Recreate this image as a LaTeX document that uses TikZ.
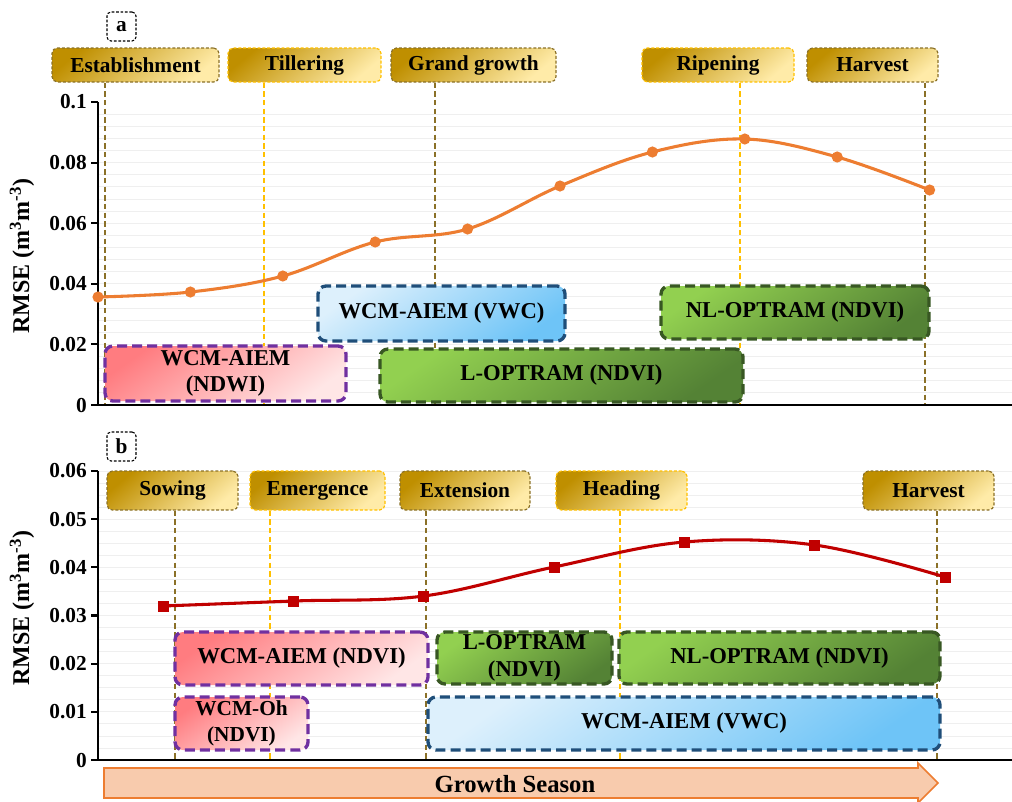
\documentclass[tikz,border=0pt]{standalone}
\usepackage{fontspec}
\setmainfont{Liberation Serif}
\usetikzlibrary{calc}
\definecolor{goldD}{HTML}{BF8F00}
\definecolor{goldM}{HTML}{FFD24A}
\definecolor{goldL}{HTML}{FFEBA8}
\definecolor{oliveLn}{HTML}{8B7128}
\definecolor{goldLn}{HTML}{FFC000}
\definecolor{pinkD}{HTML}{FF7C80}
\definecolor{pinkM}{HTML}{FFB0B2}
\definecolor{pinkL}{HTML}{FFE6E6}
\definecolor{purpLn}{HTML}{7030A0}
\definecolor{blueL}{HTML}{DDF0FC}
\definecolor{blueM}{HTML}{B5E0FB}
\definecolor{blueD}{HTML}{6EC4F7}
\definecolor{blueLn}{HTML}{1F4E79}
\definecolor{greenA}{HTML}{92D050}
\definecolor{greenB}{HTML}{A9D18E}
\definecolor{greenC}{HTML}{548235}
\definecolor{greenLn}{HTML}{385723}
\definecolor{orangeC}{HTML}{ED7D31}
\definecolor{redC}{HTML}{C00000}
\definecolor{peach}{HTML}{F8CBAD}
\definecolor{gridC}{HTML}{EFEFEF}
\begin{document}
\begin{tikzpicture}[x=0.75pt,y=-0.75pt,font=\bfseries,
  span/.style n args={4}{minimum width={(#3-#1)*0.75pt}, minimum height={(#4-#2)*0.75pt},
    at={({(#1+#3)/2},{(#2+#4)/2})}},
  hdr/.style={rounded corners=4pt, line width=0.9pt, dash pattern=on 2.2pt off 1.4pt,
    top color=goldD, middle color=goldM, bottom color=goldL, shading angle=40,
    inner sep=0pt, font=\fontsize{16}{19}\selectfont\bfseries},
  hdrO/.style={hdr, draw=oliveLn},
  hdrG/.style={hdr, draw=goldLn},
  vline/.style={line width=1.5pt, dash pattern=on 4pt off 2.5pt},
  model/.style={rounded corners=6pt, line width=2.5pt, dash pattern=on 7.5pt off 3.8pt,
    inner sep=0pt, align=center, font=\fontsize{17}{20}\selectfont\bfseries},
  pinkbox/.style={model, draw=purpLn, top color=pinkD, middle color=pinkM, bottom color=pinkL, shading angle=35},
  bluebox/.style={model, draw=blueLn, top color=blueL, middle color=blueM, bottom color=blueD, shading angle=35},
  greenbox/.style={model, draw=greenLn, top color=greenA, middle color=greenB, bottom color=greenC, shading angle=35},
  tag/.style={draw=black, rounded corners=3pt, line width=0.8pt, dash pattern=on 2pt off 1.3pt,
    fill=white, inner sep=0pt, font=\fontsize{16}{19}\selectfont\bfseries},
  tick/.style={anchor=east, inner sep=0pt, font=\fontsize{16}{19}\selectfont\bfseries},
  ylab/.style={rotate=90, inner sep=0pt, font=\fontsize{18}{21}\selectfont\bfseries},
  axisln/.style={line width=1.6pt, black},
  grid/.style={line width=0.6pt, gridC}
]
\useasboundingbox (0,0) rectangle (1012,801);

% ---------------- panel a ----------------
\foreach \k in {0,...,24} {\draw[grid] (98,{405-\k*12.12}) -- (1012,{405-\k*12.12});}

\node[tag, span={107}{12}{136}{41}] (taga) {a};

\node[hdrO, span={52}{48}{219}{82}] (est) {Establishment};
\node[hdrG, span={228}{48}{381}{82}] (til) {Tillering};
\node[hdrO, span={391}{48}{556}{82}] (gg) {Grand growth};
\node[hdrG, span={642}{48}{794}{82}] (rip) {Ripening};
\node[hdrO, span={807}{48}{938}{82}] (harA) {Harvest};

\coordinate (vEst) at (105,405);
\coordinate (vTil) at (264,405);
\coordinate (vGg) at (435,405);
\coordinate (vRip) at (740,405);
\coordinate (vHarA) at (925,405);
\draw[vline, oliveLn] (est.south -| vEst) -- (vEst);
\draw[vline, goldLn] (til.south -| vTil) -- (vTil);
\draw[vline, oliveLn] (gg.south -| vGg) -- (vGg);
\draw[vline, goldLn] (rip.south -| vRip) -- (vRip);
\draw[vline, oliveLn] (harA.south -| vHarA) -- (vHarA);

\coordinate (oA) at (98,405);
\coordinate (tA) at (98,102);
\coordinate (xA) at (1012,405);
\draw[axisln] (tA) -- (oA) -- (xA);
\foreach \y/\l [count=\i] in {405/0,344.4/0.02,283.8/0.04,223.2/0.06,162.6/0.08,102/0.1} {
  \draw[axisln] (98,\y) -- (91,\y);
  \node[tick] (ta\i) at (87,\y) {\l};
}
\node[ylab] (ylA) at (22,256) {RMSE (m\textsuperscript{3}m\textsuperscript{-3})};

\node[pinkbox, span={105}{346}{346}{401}] (m1) {WCM-AIEM\\(NDWI)};
\node[bluebox, span={318}{286}{565}{341}] (m2) {WCM-AIEM (VWC)};
\node[greenbox, span={380}{349}{743}{402}] (m3) {L-OPTRAM (NDVI)};
\node[greenbox, span={661}{286}{929}{339}] (m4) {NL-OPTRAM (NDVI)};

\coordinate (a1) at (98,297);
\coordinate (a2) at (190.4,292);
\coordinate (a3) at (282.8,276);
\coordinate (a4) at (375.2,242);
\coordinate (a5) at (467.6,229);
\coordinate (a6) at (560,186);
\coordinate (a7) at (652.4,152);
\coordinate (a8) at (744.8,139);
\coordinate (a9) at (837.2,157);
\coordinate (a10) at (929.6,190);
\draw[orangeC, line width=2.3pt] plot[smooth, tension=0.6] coordinates {(a1) (a2) (a3) (a4) (a5) (a6) (a7) (a8) (a9) (a10)};
\foreach \p in {a1,a2,a3,a4,a5,a6,a7,a8,a9,a10} {\fill[orangeC] (\p) circle (4.2pt);}

% ---------------- panel b ----------------
\foreach \k in {0,...,24} {\draw[grid] (98,{760-\k*12.04}) -- (1012,{760-\k*12.04});}

\node[tag, span={107}{432}{136}{461}] (tagb) {b};

\node[hdrO, span={107}{471}{238}{510}] (sow) {Sowing};
\node[hdrG, span={250}{471}{385}{510}] (emer) {Emergence};
\node[hdrO, span={400}{471}{530}{510}] (ext) {Extension};
\node[hdrG, span={556}{471}{687}{510}] (head) {Heading};
\node[hdrO, span={863}{471}{994}{510}] (harB) {Harvest};

\coordinate (vSow) at (175,760);
\coordinate (vEmer) at (270,760);
\coordinate (vExt) at (426,760);
\coordinate (vHead) at (620,760);
\coordinate (vHarB) at (937,760);
\draw[vline, oliveLn] (sow.south -| vSow) -- (vSow);
\draw[vline, goldLn] (emer.south -| vEmer) -- (vEmer);
\draw[vline, oliveLn] (ext.south -| vExt) -- (vExt);
\draw[vline, goldLn] (head.south -| vHead) -- (vHead);
\draw[vline, oliveLn] (harB.south -| vHarB) -- (vHarB);

\coordinate (oB) at (98,760);
\coordinate (tB) at (98,471);
\coordinate (xB) at (1012,760);
\draw[axisln] (tB) -- (oB) -- (xB);
\foreach \y/\l [count=\i] in {760/0,711.8/0.01,663.7/0.02,615.5/0.03,567.3/0.04,519.2/0.05,471/0.06} {
  \draw[axisln] (98,\y) -- (91,\y);
  \node[tick] (tb\i) at (87,\y) {\l};
}
\node[ylab] (ylB) at (22,608) {RMSE (m\textsuperscript{3}m\textsuperscript{-3})};

\node[pinkbox, span={175}{632}{428}{685}] (m5) {WCM-AIEM (NDVI)};
\node[pinkbox, span={175}{697}{308}{750}, font=\fontsize{16}{20}\selectfont\bfseries] (m6) {WCM-Oh\\(NDVI)};
\node[greenbox, span={437}{632}{612}{684}] (m7) {L-OPTRAM\\(NDVI)};
\node[greenbox, span={619}{632}{940}{684}] (m8) {NL-OPTRAM (NDVI)};
\node[bluebox, span={428}{697}{940}{750}] (m9) {WCM-AIEM (VWC)};

\coordinate (b1) at (163,606);
\coordinate (b2) at (293.3,601);
\coordinate (b3) at (423.7,596);
\coordinate (b4) at (554,567);
\coordinate (b5) at (684.3,542);
\coordinate (b6) at (814.7,545);
\coordinate (b7) at (945,577);
\draw[redC, line width=2.3pt] plot[smooth, tension=0.6] coordinates {(b1) (b2) (b3) (b4) (b5) (b6) (b7)};
\foreach \p in {b1,b2,b3,b4,b5,b6,b7} {\fill[redC] ($(\p)+(-5.5,-5.5)$) rectangle ($(\p)+(5.5,5.5)$);}

% ---------------- growth season arrow ----------------
\draw[orangeC, fill=peach, line width=1.2pt] (104,768) -- (918,768) -- (918,763) -- (938,783) -- (918,803) -- (918,798) -- (104,798) -- cycle;
\node[font=\fontsize{18.5}{22}\selectfont\bfseries, inner sep=0pt] (gs) at (515,784) {Growth Season};
\end{tikzpicture}
\end{document}
